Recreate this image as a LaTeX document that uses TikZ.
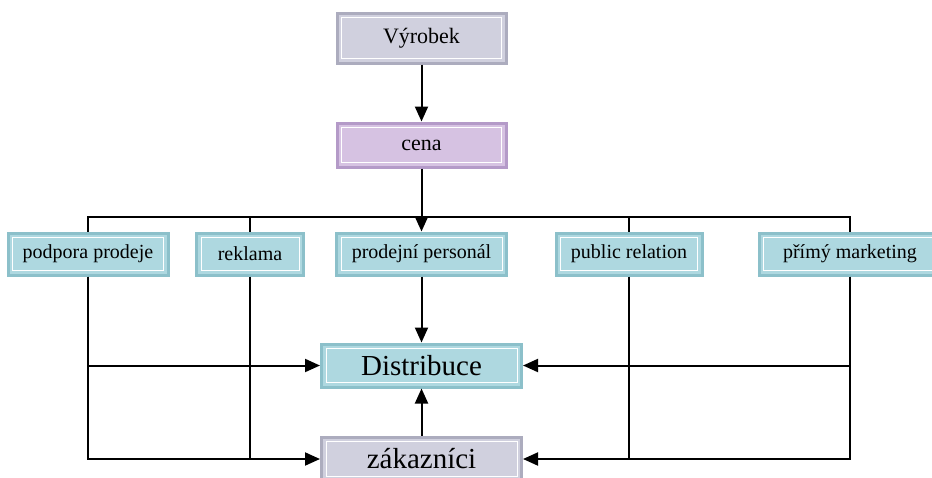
\documentclass[tikz,border=0pt]{standalone}
\usepackage{fontspec}
\setmainfont{Liberation Serif}
\usetikzlibrary{positioning,calc,arrows.meta}
\definecolor{tealbox}{RGB}{174,216,224}
\definecolor{tealedge}{RGB}{140,192,202}
\definecolor{greybox}{RGB}{208,208,222}
\definecolor{greyedge}{RGB}{172,172,190}
\definecolor{lilacbox}{RGB}{214,194,226}
\definecolor{lilacedge}{RGB}{180,154,200}
\tikzset{
  bevel/.style={rectangle, fill=#1box, draw=#1edge, line width=3pt, inner sep=0pt,
    path picture={\draw[white, line width=1pt]
      ([shift={(4.5pt,4.5pt)}]path picture bounding box.south west) rectangle
      ([shift={(-4.5pt,-4.5pt)}]path picture bounding box.north east);}},
  smallbox/.style={bevel=teal, minimum height=42pt, font=\fontsize{20}{24}\selectfont},
  bigbox/.style={minimum width=200pt, font=\fontsize{29}{34}\selectfont},
  topbox/.style={minimum width=169pt, font=\fontsize{22}{26}\selectfont},
  conn/.style={draw=black, line width=2pt},
  arr/.style={conn, -{Triangle[length=15pt,width=13pt]}}
}
\begin{document}
\begin{tikzpicture}[x=1pt,y=-1pt]
  \clip (0,0) rectangle (932,477);
  % upper chain
  \node[bevel=grey, topbox, minimum height=50pt] (vyrobek) at (421.5,38) {Výrobek};
  \node[bevel=lilac, topbox, minimum height=44pt] (cena) at (421.5,145) {cena};
  % communication mix
  \node[smallbox, minimum width=160pt] (podpora) at (88,254) {podpora prodeje};
  \node[smallbox, minimum width=107pt] (reklama) at (250,254) {reklama};
  \node[smallbox, minimum width=170pt] (prodejni) at (421.5,254) {prodejní personál};
  \node[smallbox, minimum width=146pt] (public) at (629,254) {public relation};
  \node[smallbox, minimum width=182pt] (primy) at (850,254) {přímý marketing};
  % bottom
  \node[bevel=teal, bigbox, minimum height=43pt] (distr) at (421.5,365.5) {Distribuce};
  \node[bevel=grey, bigbox, minimum height=44pt] (zak) at (421.5,459) {zákazníci};
  \coordinate (bus) at (421.5,217);

  \draw[arr] (vyrobek.south) -- (cena.north);
  \draw[arr] (cena.south) -- (prodejni.north);
  \draw[conn] (podpora.north) |- (bus) -| (primy.north);
  \draw[conn] (reklama.north) -- (reklama.north |- bus);
  \draw[conn] (public.north) -- (public.north |- bus);
  \draw[arr] (prodejni.south) -- (distr.north);
  \draw[arr] (zak.north) -- (distr.south);
  % left side
  \draw[arr] (podpora.south) |- (distr.west);
  \draw[arr] (podpora.south) |- (zak.west);
  \draw[conn] (reklama.south) -- (reklama.south |- zak.west);
  % right side
  \draw[arr] (primy.south) |- (distr.east);
  \draw[arr] (primy.south) |- (zak.east);
  \draw[conn] (public.south) -- (public.south |- zak.east);
\end{tikzpicture}
\end{document}
